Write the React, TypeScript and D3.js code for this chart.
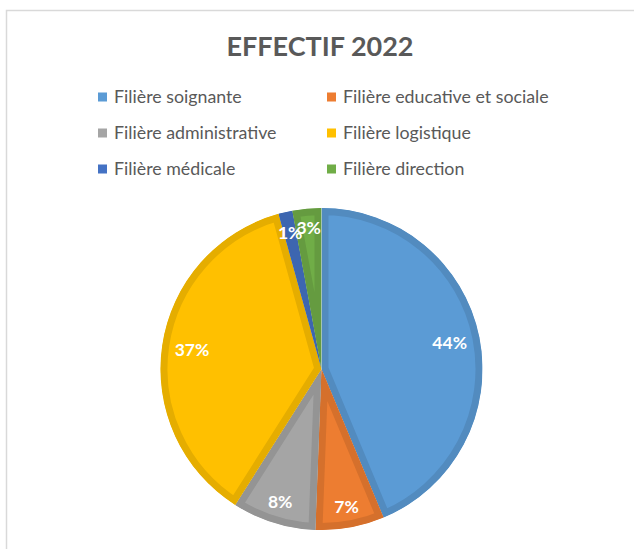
import React, { useRef, useEffect } from 'react';
import * as d3 from 'd3';

const categories = [
  'Filière soignante',
  'Filière educative et sociale',
  'Filière administrative',
  'Filière logistique',
  'Filière médicale',
  'Filière direction',
];
const values = [43.7, 6.9, 8.4, 36.7, 1.4, 2.9];
const colors = ['#5B9BD5', '#ED7D31', '#A5A5A5', '#FFC000', '#4472C4', '#70AD47'];

const W = 634;
const H = 549;
const FONT = 'Lato, "Open Sans", sans-serif';

const App: React.FC = () => {
  const ref = useRef<HTMLDivElement>(null);

  useEffect(() => {
    if (!ref.current) return;
    d3.select(ref.current).select('svg').remove();

    const svg = d3.select(ref.current)
      .append('svg')
      .attr('width', W)
      .attr('height', H)
      .style('display', 'block')
      .style('background', '#fff');

    // chart frame (runs off the right and bottom)
    svg.append('rect')
      .attr('x', 6.5)
      .attr('y', 10.5)
      .attr('width', W + 20)
      .attr('height', H + 20)
      .attr('fill', 'none')
      .attr('stroke', '#d9d9d9')
      .attr('stroke-width', 1.5);

    svg.append('text')
      .attr('x', 320)
      .attr('y', 55.5)
      .attr('text-anchor', 'middle')
      .style('font-family', FONT)
      .style('font-size', '27px')
      .style('font-weight', 700)
      .style('fill', '#595959')
      .text('EFFECTIF 2022');

    // legend, two columns
    const colX = [98, 327];
    const rowY = [97, 133, 169];
    const legend = svg.append('g');
    categories.forEach((c, i) => {
      const x = colX[i % 2];
      const y = rowY[Math.floor(i / 2)];
      legend.append('rect')
        .attr('x', x)
        .attr('y', y - 4.5)
        .attr('width', 9)
        .attr('height', 9)
        .attr('fill', colors[i]);
      legend.append('text')
        .attr('x', x + 16)
        .attr('y', y)
        .attr('dy', '0.35em')
        .style('font-family', FONT)
        .style('font-size', '17.8px')
        .style('fill', '#595959')
        .text(c);
    });

    // pie
    const cx = 321.5;
    const cy = 369;
    const r = 161;
    const border = 7;

    const pie = d3.pie<number>().sort(null).value(d => d);
    const arcs = pie(values);
    const arc = d3.arc<d3.PieArcDatum<number>>().innerRadius(0).outerRadius(r);

    const g = svg.append('g').attr('transform', `translate(${cx},${cy})`);
    const defs = svg.append('defs');

    arcs.forEach((a, i) => {
      defs.append('clipPath')
        .attr('id', `slice-${i}`)
        .append('path')
        .attr('d', arc(a) as string);
      g.append('path')
        .attr('d', arc(a) as string)
        .attr('fill', colors[i])
        .attr('stroke', d3.color(colors[i])!.darker(0.3).formatHex())
        .attr('stroke-width', border * 2)
        .attr('stroke-linejoin', 'miter')
        .attr('clip-path', `url(#slice-${i})`);
    });

    // percentage labels, placed at the inside end of each slice
    const total = d3.sum(values);
    arcs.forEach((a, i) => {
      const mid = (a.startAngle + a.endAngle) / 2;
      const t = g.append('text')
        .attr('text-anchor', 'middle')
        .attr('dy', '0.35em')
        .style('font-family', FONT)
        .style('font-size', '17.5px')
        .style('font-weight', 700)
        .style('fill', '#fff')
        .text(`${Math.round((values[i] / total) * 100)}%`);
      const node = t.node() as SVGTextElement;
      const w = node.getComputedTextLength();
      const h = 13;
      const ext = Math.abs(Math.sin(mid)) * w / 2 + Math.abs(Math.cos(mid)) * h / 2;
      const dist = r - 12 - ext;
      t.attr('x', dist * Math.sin(mid)).attr('y', -dist * Math.cos(mid));
    });
  }, []);

  return (
    <div style={{ position: 'absolute', left: 0, top: 0 }}>
      <div ref={ref} />
    </div>
  );
};

export default App;
